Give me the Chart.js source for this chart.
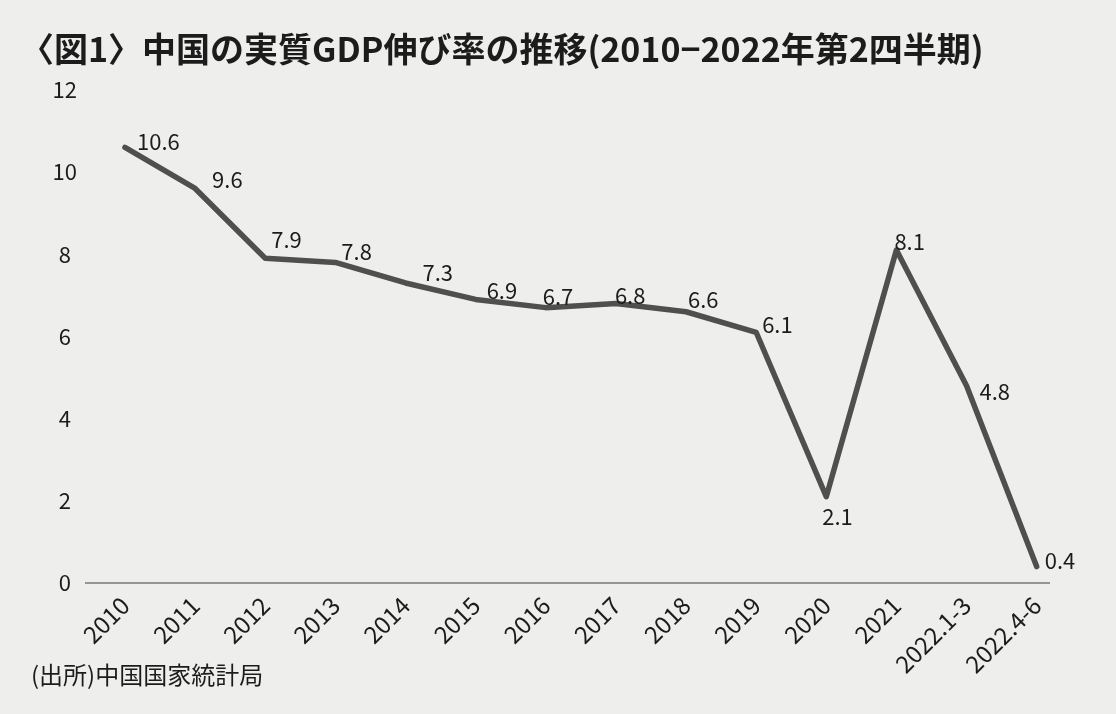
<!DOCTYPE html>
<html>
<head>
<meta charset="utf-8">
<script src="https://cdn.jsdelivr.net/npm/chart.js@4"></script>
<style>
  html, body { margin: 0; padding: 0; background: #eeeeec; }
  #wrap { width: 1116px; height: 714px; }
</style>
</head>
<body>
<div id="wrap"><canvas id="gdp"></canvas></div>
<script>
// 中国の実質GDP伸び率 (%)
const categories = ["2010","2011","2012","2013","2014","2015","2016","2017","2018","2019","2020","2021","2022.1-3","2022.4-6"]
const growth = [10.6, 9.6, 7.9, 7.8, 7.3, 6.9, 6.7, 6.8, 6.6, 6.1, 2.1, 8.1, 4.8, 0.4]
const yTicks = [0, 2, 4, 6, 8, 10, 12]
const sourceNote = "(出所)中国国家統計局"

// where each value label sits relative to its point (left edge dx, middle dy)
const labelOffsets = [[12,-6],[17,-9],[6,-19],[6,-11],[17,-10],[11,-9],[-3,-11],[-1,-8],[2,-12],[6,-8],[-4,20],[-2,-8],[13,6],[8,-6]]

const textColor = "#1c1c1c"
const lineColor = "#4f4f4f"
const numFont = "'Noto Sans CJK JP', 'Noto Sans', sans-serif"

const valueLabels = {
    id: "valueLabels",
    afterDatasetsDraw(chart) {
        const ctx = chart.ctx
        const meta = chart.getDatasetMeta(0)
        ctx.save()
        ctx.font = "22px " + numFont
        ctx.fillStyle = textColor
        ctx.textAlign = "left"
        ctx.textBaseline = "middle"
        meta.data.forEach((pt, i) => {
            const off = labelOffsets[i]
            ctx.fillText(growth[i].toFixed(1), pt.x + off[0], pt.y + off[1])
        })
        // source note under the axis
        ctx.font = "24px " + numFont
        ctx.fillText(sourceNote, 31, 675)
        ctx.restore()
    }
}

const chart = new Chart(document.getElementById("gdp"), {
    type: "line",
    data: {
        datasets: [{
            data: growth.map((v, i) => ({x: i, y: v})),
            borderColor: lineColor,
            borderWidth: 5.5,
            borderCapStyle: "round",
            borderJoinStyle: "round",
            pointRadius: 0,
            tension: 0
        }]
    },
    options: {
        responsive: true,
        maintainAspectRatio: false,
        animation: false,
        layout: { padding: { left: 20, right: 66, top: 29, bottom: 11 } },
        plugins: {
            legend: { display: false },
            tooltip: { enabled: false },
            title: {
                display: true,
                align: "start",
                text: "〈図1〉中国の実質GDP伸び率の推移(2010−2022年第2四半期)",
                color: textColor,
                font: { family: numFont, size: 34, weight: "bold" },
                padding: { top: 0, bottom: 20 }
            }
        },
        scales: {
            x: {
                type: "linear",
                min: -0.57,
                max: 13.19,
                afterBuildTicks: (scale) => { scale.ticks = categories.map((_, i) => ({value: i})) },
                afterFit: (scale) => { scale.height = 120 },
                ticks: {
                    callback: (v) => categories[v],
                    color: textColor,
                    font: { family: numFont, size: 24 },
                    maxRotation: 45,
                    minRotation: 45,
                    autoSkip: false,
                    padding: 0
                },
                grid: { display: false },
                border: { display: false }
            },
            y: {
                min: 0,
                max: 12,
                afterBuildTicks: (scale) => { scale.ticks = yTicks.map(v => ({value: v})) },
                afterFit: (scale) => { scale.width = 65 },
                ticks: {
                    color: textColor,
                    font: { family: numFont, size: 22 },
                    crossAlign: "center",
                    padding: 8
                },
                grid: {
                    drawTicks: false,
                    lineWidth: 2,
                    color: (ctx) => (ctx.tick.value === 0 ? "rgba(90,90,90,0.6)" : "transparent")
                },
                border: { display: false }
            }
        }
    },
    plugins: [valueLabels]
})
</script>
</body>
</html>
